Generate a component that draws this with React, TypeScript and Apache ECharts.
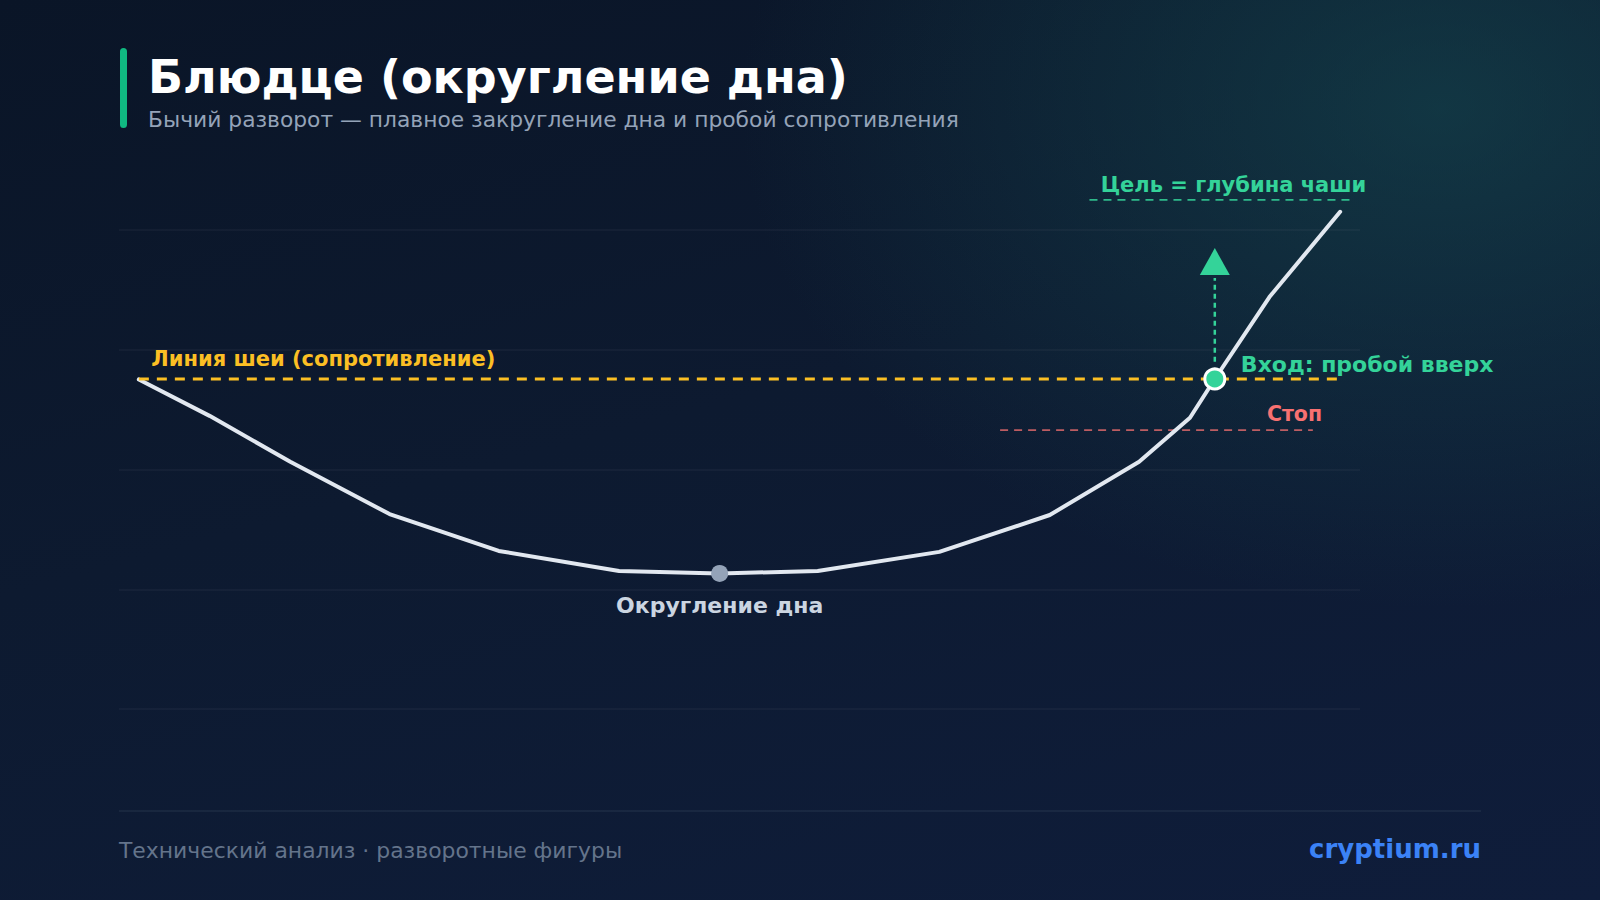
import React, { useEffect, useRef } from "react";
import * as echarts from "echarts";

// Price path of the saucer (x = time position, y = price level)
const priceX = [1.6, 7.3, 13.8, 21.8, 30.6, 40.3, 48.4, 56.3, 66.1, 75.0, 82.2, 86.3, 88.3, 92.7, 98.4];
const priceY = [68.8, 61.2, 51.6, 40.7, 33.0, 28.8, 28.3, 28.8, 32.8, 40.5, 51.6, 60.8, 68.9, 86.0, 103.8];

// Levels
const necklineLevel = 68.9;
const necklineRange = [1.6, 98.4];
const targetLevel = 106.3;
const targetRange = [78.2, 99.6];
const stopLevel = 58.2;
const stopRange = [71.0, 96.2];

// Key points
const bottomPoint = [48.4, 28.3];
const entryPoint = [88.3, 68.9];
const arrowShaftX = 88.3;
const arrowShaftRange = [72.5, 90.0];
const arrowHeadPoint = [88.3, 93.4];

// Annotation texts and anchors
const annotationTexts = [
  "Линия шеи (сопротивление)",
  "Округление дна",
  "Вход: пробой вверх",
  "Цель = глубина чаши",
  "Стоп",
];
const annotationAnchors = [
  [2.6, 73.1],
  [48.4, 21.7],
  [90.4, 72.0],
  [79.1, 109.4],
  [92.5, 61.6],
];
const annotationColors = ["#fbbf24", "#cbd5e1", "#34d399", "#34d399", "#f87171"];
const annotationAlign = ["left", "center", "left", "left", "left"];
const annotationSizes = [21, 22, 22, 21, 20.5];

const titleText = "Блюдце (округление дна)";
const subtitleText = "Бычий разворот — плавное закругление дна и пробой сопротивления";
const footerLeft = "Технический анализ · разворотные фигуры";
const footerRight = "cryptium.ru";

const FONT = "'DejaVu Sans', 'Noto Sans', sans-serif";

export default function App() {
  const ref = useRef<HTMLDivElement>(null);

  useEffect(() => {
    if (!ref.current) return;
    const chart = echarts.init(ref.current, undefined, { renderer: "svg" });

    const pricePath = priceX.map((x, i) => [x, priceY[i]]);

    const option: any = {
      animation: false,
      backgroundColor: "transparent",
      textStyle: { fontFamily: FONT },
      grid: { left: 119, right: 240, top: 230, bottom: 191 },
      xAxis: {
        type: "value",
        min: 0,
        max: 100,
        axisLine: { show: false },
        axisTick: { show: false },
        axisLabel: { show: false },
        splitLine: { show: false },
      },
      yAxis: {
        type: "value",
        min: 0,
        max: 100,
        interval: 25,
        axisLine: { show: false },
        axisTick: { show: false },
        axisLabel: { show: false },
        splitLine: { show: true, lineStyle: { color: "rgba(148,163,184,0.08)", width: 1.5 } },
      },
      series: [
        {
          name: "stop",
          type: "line",
          clip: false,
          symbol: "none",
          data: [
            [stopRange[0], stopLevel],
            [stopRange[1], stopLevel],
          ],
          lineStyle: { color: "rgba(248,113,113,0.75)", width: 1.8, type: [8, 6] },
          z: 2,
        },
        {
          name: "target",
          type: "line",
          clip: false,
          symbol: "none",
          data: [
            [targetRange[0], targetLevel],
            [targetRange[1], targetLevel],
          ],
          lineStyle: { color: "rgba(52,211,153,0.85)", width: 1.8, type: [8, 6] },
          z: 2,
        },
        {
          name: "price",
          type: "line",
          clip: false,
          symbol: "none",
          data: pricePath,
          lineStyle: { color: "#e2e8f0", width: 4, join: "round", cap: "round" },
          z: 3,
        },
        {
          name: "neckline",
          type: "line",
          clip: false,
          symbol: "none",
          data: [
            [necklineRange[0], necklineLevel],
            [necklineRange[1], necklineLevel],
          ],
          lineStyle: { color: "#fbbf24", width: 3, type: [10, 8] },
          z: 4,
        },
        {
          name: "arrow",
          type: "line",
          clip: false,
          symbol: "none",
          data: [
            [arrowShaftX, arrowShaftRange[0]],
            [arrowShaftX, arrowShaftRange[1]],
          ],
          lineStyle: { color: "#34d399", width: 2.5, type: [5, 4] },
          z: 4,
        },
        {
          name: "arrowHead",
          type: "scatter",
          clip: false,
          symbol: "triangle",
          symbolSize: [30, 27],
          data: [arrowHeadPoint],
          itemStyle: { color: "#34d399", opacity: 1 },
          z: 5,
        },
        {
          name: "points",
          type: "scatter",
          clip: false,
          data: [
            {
              value: bottomPoint,
              symbolSize: 17,
              itemStyle: { color: "#94a3b8", opacity: 1 },
            },
            {
              value: entryPoint,
              symbolSize: 20,
              itemStyle: { color: "#34d399", borderColor: "#ffffff", borderWidth: 3, opacity: 1 },
            },
          ],
          z: 6,
        },
        {
          name: "annotations",
          type: "scatter",
          clip: false,
          symbolSize: 1,
          itemStyle: { color: "rgba(0,0,0,0)", opacity: 1 },
          data: annotationAnchors.map((p, i) => ({
            value: p,
            label: {
              show: true,
              position: "inside",
              formatter: annotationTexts[i],
              align: annotationAlign[i],
              verticalAlign: "middle",
              color: annotationColors[i],
              textBorderWidth: 0,
              opacity: 1,
              fontSize: annotationSizes[i],
              fontWeight: "bold",
              fontFamily: FONT,
            },
          })),
          z: 7,
        },
      ],
      graphic: [
        {
          type: "rect",
          left: 120,
          top: 48,
          shape: { width: 7, height: 80, r: 3.5 },
          style: { fill: "#10b981" },
        },
        {
          type: "text",
          x: 148,
          y: 77,
          style: {
            text: titleText,
            fill: "#ffffff",
            font: `bold 46px ${FONT}`,
            textVerticalAlign: "middle",
          },
        },
        {
          type: "text",
          x: 148,
          y: 119,
          style: {
            text: subtitleText,
            fill: "#94a3b8",
            font: `21.8px ${FONT}`,
            textVerticalAlign: "middle",
          },
        },
        {
          type: "line",
          shape: { x1: 119, y1: 811, x2: 1481, y2: 811 },
          style: { stroke: "rgba(148,163,184,0.12)", lineWidth: 1.5 },
        },
        {
          type: "text",
          x: 119,
          y: 850,
          style: {
            text: footerLeft,
            fill: "#64748b",
            font: `21.9px ${FONT}`,
            textVerticalAlign: "middle",
          },
        },
        {
          type: "text",
          x: 1481,
          y: 849,
          style: {
            text: footerRight,
            fill: "#3b82f6",
            font: `bold 26px ${FONT}`,
            textAlign: "right",
            textVerticalAlign: "middle",
          },
        },
      ],
    };

    chart.setOption(option);
    return () => chart.dispose();
  }, []);

  return (
    <div
      style={{
        position: "fixed",
        left: 0,
        top: 0,
        width: 1600,
        height: 900,
        background:
          "radial-gradient(ellipse 700px 500px at 90% 12%, rgba(22,78,84,0.55), rgba(22,78,84,0) 100%), linear-gradient(165deg, #0a1527 0%, #0d1a30 45%, #0f1d3b 100%)",
      }}
    >
      <div ref={ref} style={{ width: 1600, height: 900 }} />
    </div>
  );
}
